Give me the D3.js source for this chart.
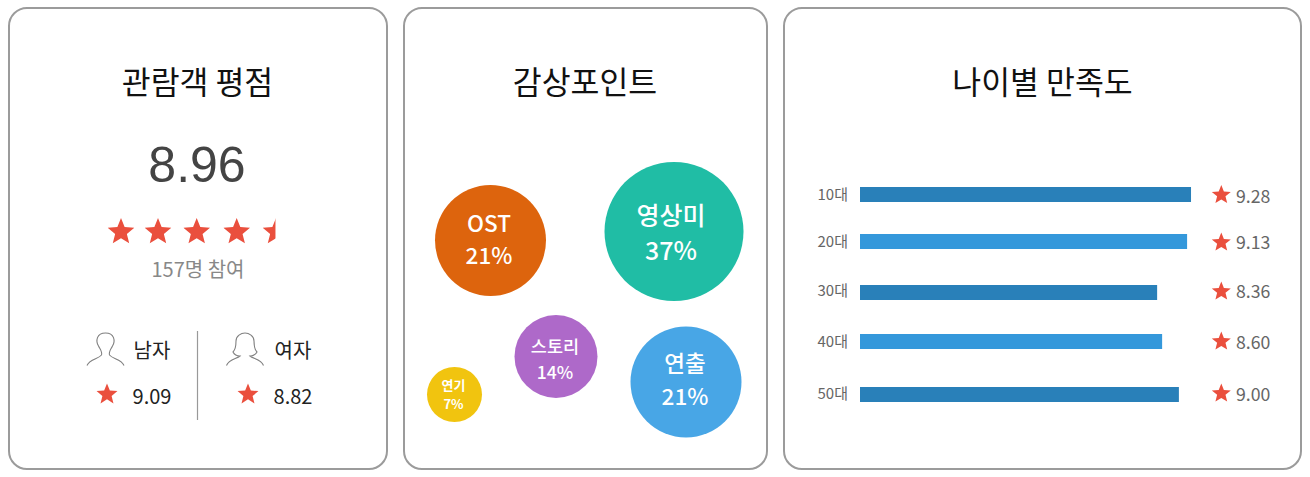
<!DOCTYPE html>
<html><head><meta charset="utf-8">
<script src="https://cdn.jsdelivr.net/npm/d3@7"></script>
<style>
html,body{margin:0;padding:0;background:#fff;overflow:hidden}
svg{display:block}
text{font-family:"Noto Sans CJK KR","Noto Sans",sans-serif}
</style></head><body>
<svg id="c" width="1310" height="477"></svg>
<script>
// ---- data ----
const titles = ["관람객 평점", "감상포인트", "나이별 만족도"];
const overallScore = 8.96;
const participants = "157명 참여";
const genders = ["남자", "여자"];
const genderScores = [9.09, 8.82];
const pointCategories = ["OST", "영상미", "연출", "스토리", "연기"];
const pointValues = [21, 37, 21, 14, 7];
const ages = ["10대", "20대", "30대", "40대", "50대"];
const ageScores = [9.28, 9.13, 8.36, 8.60, 9.00];
// bar lengths (the drawn bars differ slightly from their printed scores)
const ageBarValues = [9.28, 9.17, 8.33, 8.47, 8.94];

// ---- layout ----
const svg = d3.select("#c");
const RED = "#ea4f3d";
// five-pointed star with a fuller body than d3.symbolStar, via d3's radial line
const star = (r) => d3.lineRadial().curve(d3.curveLinearClosed)
  .angle((d, i) => i * Math.PI / 5).radius((d, i) => i % 2 ? r * 0.44 : r)(d3.range(10));

const cards = [[9, 8, 378, 461], [404, 8, 363, 461], [784, 8, 517, 461]];
svg.selectAll("rect.card").data(cards).join("rect").attr("class", "card")
  .attr("x", d => d[0]).attr("y", d => d[1]).attr("width", d => d[2]).attr("height", d => d[3])
  .attr("rx", 18).attr("fill", "#fff").attr("stroke", "#9b9b9b").attr("stroke-width", 2);

const titleX = [197.5, 585, 1042.5];
svg.selectAll("text.title").data(titles).join("text").attr("class", "title")
  .attr("x", (d, i) => titleX[i]).attr("y", 94).attr("text-anchor", "middle")
  .attr("font-size", 31.4).attr("fill", "#111").text(d => d);

// ---- card 1 ----
svg.append("text").attr("x", 197).attr("y", 182).attr("text-anchor", "middle")
  .attr("font-size", 50).attr("fill", "#444").style("font-family", '"Liberation Sans"').text(overallScore.toFixed(2));

const starX = [121, 158, 196.7, 236.7, 276];
const starR = 14, starW = starR * 2 * Math.cos(Math.PI / 10);
const starsFull = overallScore / 2;
const defs = svg.append("defs");
starX.forEach((x, i) => {
  const frac = Math.max(0, Math.min(1, starsFull - i));
  defs.append("clipPath").attr("id", "sc" + i).append("rect")
    .attr("x", x - starW / 2).attr("y", 210).attr("width", starW * frac).attr("height", 40);
  svg.append("g").attr("clip-path", `url(#sc${i})`).append("path")
    .attr("d", star(starR)).attr("transform", `translate(${x},232)`).attr("fill", RED);
});

svg.append("text").attr("x", 198).attr("y", 277).attr("text-anchor", "middle")
  .attr("font-size", 20).attr("fill", "#888").text(participants);

svg.append("line").attr("x1", 197.5).attr("x2", 197.5).attr("y1", 331).attr("y2", 420)
  .attr("stroke", "#999").attr("stroke-width", 1.2);

const genderIcon = [
  "M-18.5,16.5 C-16,10 -7,10 -4,6 C-3,3 -5,1 -7,-3 C-10,-8 -9,-16 0,-16 C9,-16 10,-8 7,-3 C5,1 3,3 4,6 C7,10 16,10 18.5,16.5",
  "M-18.5,16.5 C-16,10 -8,10 -5,7 C-8,7 -11,5 -12,3 C-9,0 -9,-4 -9,-8 C-9,-13 -4,-16 0,-16 C4,-16 9,-13 9,-8 C9,-4 9,0 12,3 C11,5 8,7 5,7 C8,10 16,10 18.5,16.5"
];
const iconX = [105.5, 245], genderLabelX = [152, 293], gStarX = [107, 248], gScoreX = [152, 293];
genders.forEach((g, i) => {
  svg.append("path").attr("d", genderIcon[i]).attr("transform", `translate(${iconX[i]},349)`)
    .attr("fill", "none").attr("stroke", "#808080").attr("stroke-width", 1.1);
  svg.append("text").attr("x", genderLabelX[i]).attr("y", 358).attr("text-anchor", "middle")
    .attr("font-size", 20).attr("fill", "#222").text(g);
  svg.append("path").attr("d", star(11)).attr("transform", `translate(${gStarX[i]},394.5)`).attr("fill", RED);
  svg.append("text").attr("x", gScoreX[i]).attr("y", 404).attr("text-anchor", "middle")
    .attr("font-size", 20).attr("fill", "#222").text(genderScores[i].toFixed(2));
});

// ---- card 2 ----
const bx = d3.scaleOrdinal(pointCategories, [490.5, 674, 686, 556, 454.5]);
const by = d3.scaleOrdinal(pointCategories, [240.5, 231.5, 382, 356.5, 394.5]);
const bc = d3.scaleOrdinal(pointCategories, ["#dd640d", "#20bda5", "#48a6e6", "#ae69c9", "#f1c40f"]);
const br = d3.scaleLinear([7, 21, 37], [27.5, 55.5, 69.5]);
const bf = d3.scaleLinear([7, 14, 21, 37], [13, 17.5, 22.5, 25]);
const fw = d3.scaleThreshold([14], [700, 500]);
const textDx = d3.scaleOrdinal(pointCategories, [-1.5, -3, -1, -1, -1]);
const labelY = d3.scaleOrdinal(pointCategories, [-9, -7, -10, -3.5, -5]);
const valueY = d3.scaleOrdinal(pointCategories, [23, 28, 23, 22, 14]);
const bubbles = svg.selectAll("g.b").data(pointCategories).join("g").attr("class", "b")
  .attr("transform", d => `translate(${bx(d)},${by(d)})`);
bubbles.append("circle").attr("r", (d, i) => br(pointValues[i])).attr("fill", d => bc(d));
bubbles.append("text").attr("text-anchor", "middle").attr("fill", "#fff")
  .attr("font-weight", (d, i) => fw(pointValues[i]))
  .attr("font-size", (d, i) => bf(pointValues[i])).attr("x", d => textDx(d))
  .attr("y", d => labelY(d)).text(d => d);
bubbles.append("text").attr("text-anchor", "middle").attr("fill", "#fff")
  .attr("font-weight", (d, i) => fw(pointValues[i]))
  .attr("font-size", (d, i) => bf(pointValues[i])).attr("x", d => textDx(d))
  .attr("y", d => valueY(d)).text((d, i) => pointValues[i] + "%");

// ---- card 3 ----
const xs = d3.scaleLinear([0, 10], [860, 1216.7]);
const rowY = d3.scaleOrdinal(ages, [187, 234, 285, 334, 387]);
const tagY = d3.scaleOrdinal(ages, [200, 247, 296, 347, 399]);
const starY = d3.scaleOrdinal(ages, [195, 242.5, 291.5, 341.5, 393.5]);
const scoreY = d3.scaleOrdinal(ages, [203, 249, 298, 349, 401]);
const rows = svg.selectAll("g.r").data(ages).join("g").attr("class", "r");
rows.append("rect").attr("x", xs(0)).attr("y", d => rowY(d)).attr("height", 15)
  .attr("width", (d, i) => xs(ageBarValues[i]) - xs(0))
  .attr("fill", (d, i) => i % 2 ? "#3498db" : "#2980b9");
rows.append("text").attr("x", 848).attr("y", d => tagY(d)).attr("text-anchor", "end")
  .attr("font-size", 15).attr("fill", "#666").text(d => d);
rows.append("path").attr("d", star(10)).attr("transform", d => `translate(1221.3,${starY(d)})`).attr("fill", RED);
rows.append("text").attr("x", 1236).attr("y", d => scoreY(d)).attr("font-size", 17.7)
  .attr("fill", "#666").text((d, i) => ageScores[i].toFixed(2));
</script></body></html>
